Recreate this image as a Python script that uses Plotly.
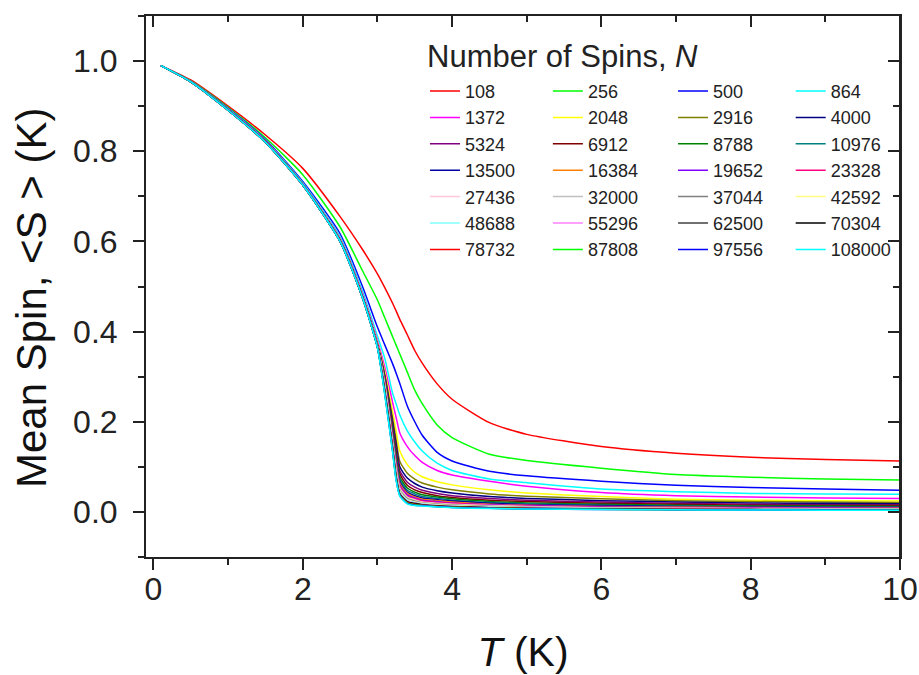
import plotly.graph_objects as go

# temperature grid (K) shared by all curves
T = [0.1, 0.5, 1.0, 1.5, 2.0, 2.5, 2.8, 3.0, 3.1, 3.2, 3.25, 3.3, 3.4, 3.5, 3.6,
     3.8, 4.0, 4.5, 5.0, 6.0, 7.0, 8.0, 9.0, 10.0]

# mean spin <S> for each number of spins N
S_108 = [0.990, 0.958, 0.900, 0.836, 0.762, 0.655, 0.582, 0.528, 0.497, 0.464, 0.446, 0.427,
         0.393, 0.358, 0.330, 0.284, 0.250, 0.198, 0.172, 0.145, 0.130, 0.121, 0.116, 0.113]
S_256 = [0.990, 0.956, 0.897, 0.830, 0.748, 0.632, 0.535, 0.470, 0.430, 0.390, 0.370, 0.350,
         0.310, 0.270, 0.240, 0.193, 0.165, 0.128, 0.114, 0.097, 0.083, 0.077, 0.073, 0.071]
S_500 = [0.990, 0.955, 0.895, 0.826, 0.733, 0.617, 0.500, 0.410, 0.370, 0.330, 0.308, 0.285,
         0.235, 0.200, 0.170, 0.132, 0.113, 0.090, 0.080, 0.068, 0.059, 0.054, 0.051, 0.048]
S_864 = [0.990, 0.955, 0.894, 0.824, 0.730, 0.610, 0.490, 0.390, 0.340, 0.265, 0.240, 0.215,
         0.180, 0.155, 0.135, 0.108, 0.092, 0.073, 0.065, 0.051, 0.045, 0.041, 0.040, 0.039]
S_1372 = [0.990, 0.955, 0.893, 0.823, 0.728, 0.606, 0.484, 0.380, 0.320, 0.245, 0.210, 0.175,
          0.145, 0.125, 0.110, 0.092, 0.082, 0.068, 0.057, 0.043, 0.036, 0.033, 0.031, 0.030]
S_2048 = [0.990, 0.954, 0.892, 0.822, 0.727, 0.604, 0.480, 0.375, 0.310, 0.225, 0.180, 0.135,
          0.105, 0.088, 0.078, 0.067, 0.060, 0.049, 0.042, 0.034, 0.028, 0.026, 0.025, 0.024]
S_2916 = [0.990, 0.954, 0.892, 0.821, 0.726, 0.603, 0.478, 0.372, 0.303, 0.210, 0.160, 0.112,
          0.086, 0.073, 0.064, 0.055, 0.049, 0.040, 0.035, 0.029, 0.025, 0.023, 0.022, 0.021]
S_4000 = [0.990, 0.954, 0.892, 0.821, 0.726, 0.602, 0.477, 0.371, 0.300, 0.202, 0.150, 0.100,
          0.075, 0.063, 0.055, 0.047, 0.042, 0.034, 0.030, 0.025, 0.022, 0.020, 0.019, 0.018]
S_5324 = [0.990, 0.954, 0.892, 0.821, 0.726, 0.602, 0.477, 0.370, 0.297, 0.195, 0.141, 0.091,
          0.066, 0.055, 0.048, 0.041, 0.036, 0.030, 0.026, 0.022, 0.019, 0.017, 0.016, 0.016]
S_6912 = [0.990, 0.954, 0.891, 0.821, 0.726, 0.602, 0.477, 0.370, 0.295, 0.189, 0.133, 0.084,
          0.059, 0.049, 0.043, 0.036, 0.032, 0.026, 0.023, 0.019, 0.017, 0.015, 0.014, 0.014]
S_8788 = [0.990, 0.954, 0.891, 0.820, 0.725, 0.601, 0.476, 0.369, 0.292, 0.183, 0.126, 0.077,
          0.053, 0.044, 0.038, 0.033, 0.029, 0.023, 0.020, 0.017, 0.015, 0.013, 0.013, 0.012]
S_10976 = [0.990, 0.954, 0.891, 0.820, 0.725, 0.601, 0.476, 0.369, 0.290, 0.178, 0.120, 0.072,
           0.048, 0.040, 0.034, 0.030, 0.026, 0.021, 0.018, 0.015, 0.013, 0.012, 0.011, 0.011]
S_13500 = [0.990, 0.954, 0.891, 0.820, 0.725, 0.601, 0.476, 0.368, 0.288, 0.174, 0.115, 0.067,
           0.044, 0.036, 0.031, 0.027, 0.024, 0.019, 0.016, 0.014, 0.012, 0.011, 0.010, 0.010]
S_16384 = [0.990, 0.954, 0.891, 0.820, 0.725, 0.600, 0.475, 0.368, 0.286, 0.170, 0.110, 0.063,
           0.041, 0.033, 0.028, 0.025, 0.022, 0.017, 0.015, 0.012, 0.011, 0.010, 0.009, 0.009]
S_19652 = [0.990, 0.954, 0.891, 0.820, 0.725, 0.600, 0.475, 0.368, 0.284, 0.166, 0.105, 0.059,
           0.038, 0.031, 0.026, 0.023, 0.020, 0.016, 0.014, 0.011, 0.010, 0.009, 0.0085, 0.008]
S_23328 = [0.990, 0.954, 0.891, 0.820, 0.725, 0.600, 0.475, 0.367, 0.282, 0.163, 0.101, 0.056,
           0.035, 0.029, 0.024, 0.021, 0.019, 0.015, 0.013, 0.010, 0.009, 0.0083, 0.0078, 0.0075]
S_27436 = [0.990, 0.954, 0.891, 0.820, 0.725, 0.600, 0.475, 0.367, 0.280, 0.160, 0.097, 0.053,
           0.033, 0.027, 0.022, 0.019, 0.017, 0.014, 0.012, 0.0095, 0.0084, 0.0077, 0.0072, 0.0069]
S_32000 = [0.990, 0.954, 0.891, 0.820, 0.725, 0.600, 0.475, 0.367, 0.278, 0.157, 0.094, 0.050,
           0.031, 0.025, 0.021, 0.018, 0.016, 0.013, 0.011, 0.0088, 0.0078, 0.0072, 0.0067, 0.0064]
S_37044 = [0.990, 0.954, 0.891, 0.820, 0.725, 0.600, 0.475, 0.367, 0.276, 0.155, 0.091, 0.048,
           0.029, 0.024, 0.020, 0.017, 0.015, 0.012, 0.010, 0.0083, 0.0073, 0.0067, 0.0063, 0.0060]
S_42592 = [0.990, 0.954, 0.891, 0.820, 0.725, 0.600, 0.475, 0.366, 0.274, 0.153, 0.088, 0.046,
           0.027, 0.022, 0.019, 0.016, 0.014, 0.011, 0.0095, 0.0078, 0.0069, 0.0063, 0.0059, 0.0056]
S_48688 = [0.990, 0.954, 0.891, 0.820, 0.725, 0.600, 0.475, 0.366, 0.272, 0.151, 0.085, 0.044,
           0.026, 0.021, 0.018, 0.015, 0.013, 0.0105, 0.009, 0.0074, 0.0065, 0.0060, 0.0055, 0.0052]
S_55296 = [0.990, 0.954, 0.891, 0.820, 0.725, 0.600, 0.475, 0.366, 0.270, 0.149, 0.082, 0.042,
           0.024, 0.020, 0.017, 0.014, 0.0125, 0.010, 0.0086, 0.0070, 0.0062, 0.0057, 0.0052, 0.0049]
S_62500 = [0.990, 0.954, 0.891, 0.820, 0.725, 0.600, 0.475, 0.366, 0.268, 0.147, 0.080, 0.040,
           0.023, 0.019, 0.016, 0.0135, 0.012, 0.0095, 0.0082, 0.0066, 0.0058, 0.0054, 0.0050, 0.0046]
S_70304 = [0.990, 0.954, 0.891, 0.820, 0.725, 0.600, 0.475, 0.365, 0.266, 0.145, 0.078, 0.039,
           0.022, 0.018, 0.0155, 0.013, 0.0115, 0.009, 0.0078, 0.0063, 0.0056, 0.0051, 0.0047, 0.0044]
S_78732 = [0.990, 0.954, 0.891, 0.820, 0.725, 0.600, 0.475, 0.365, 0.264, 0.143, 0.076, 0.038,
           0.021, 0.017, 0.015, 0.0125, 0.011, 0.0086, 0.0075, 0.0060, 0.0053, 0.0049, 0.0045, 0.0041]
S_87808 = [0.990, 0.954, 0.891, 0.820, 0.725, 0.600, 0.475, 0.365, 0.262, 0.141, 0.074, 0.037,
           0.020, 0.016, 0.0145, 0.012, 0.0105, 0.0082, 0.0071, 0.0057, 0.0050, 0.0046, 0.0043, 0.0039]
S_97556 = [0.990, 0.954, 0.891, 0.820, 0.725, 0.600, 0.475, 0.365, 0.260, 0.139, 0.072, 0.036,
           0.019, 0.015, 0.014, 0.0115, 0.010, 0.0079, 0.0068, 0.0055, 0.0048, 0.0044, 0.0041, 0.0037]
S_108000 = [0.990, 0.954, 0.891, 0.820, 0.725, 0.600, 0.475, 0.364, 0.258, 0.137, 0.070, 0.035,
            0.018, 0.014, 0.013, 0.011, 0.0095, 0.0075, 0.0065, 0.0052, 0.0046, 0.0042, 0.0039, 0.0035]

N_values = [108, 256, 500, 864, 1372, 2048, 2916, 4000, 5324, 6912, 8788, 10976, 13500, 16384,
            19652, 23328, 27436, 32000, 37044, 42592, 48688, 55296, 62500, 70304, 78732, 87808,
            97556, 108000]

# Origin-style colour cycle
line_colors = ['#FF0000', '#00FF00', '#0000FF', '#00FFFF', '#FF00FF', '#FFFF00', '#808000',
               '#000080', '#800080', '#800000', '#008000', '#008080', '#0000A0', '#FF8000',
               '#8000FF', '#FF0080', '#FFC8D8', '#C0C0C0', '#808080', '#FFFF80', '#80FFFF',
               '#FF80FF', '#404040', '#000000', '#FF0000', '#00FF00', '#0000FF', '#00FFFF']

spin_curves = [S_108, S_256, S_500, S_864, S_1372, S_2048, S_2916, S_4000, S_5324, S_6912,
               S_8788, S_10976, S_13500, S_16384, S_19652, S_23328, S_27436, S_32000, S_37044,
               S_42592, S_48688, S_55296, S_62500, S_70304, S_78732, S_87808, S_97556, S_108000]

FONT = 'Liberation Sans, Arial, sans-serif'
AXIS_COLOR = '#222222'

fig = go.Figure()

# legend is laid out row by row in 4 columns -> one legend per column
legend_names = ['legend', 'legend2', 'legend3', 'legend4']

for i, (n, s) in enumerate(zip(N_values, spin_curves)):
    fig.add_trace(go.Scatter(x=T, y=s, mode='lines', name=str(n),
                             line=dict(color=line_colors[i], width=1.5, shape='spline', smoothing=0.6),
                             legend=legend_names[i % 4]))

# empty traces so the mirrored top / right axes get drawn
fig.add_trace(go.Scatter(x=[], y=[], xaxis='x2', yaxis='y', showlegend=False, hoverinfo='skip'))
fig.add_trace(go.Scatter(x=[], y=[], xaxis='x', yaxis='y2', showlegend=False, hoverinfo='skip'))

legend_x = [0.370, 0.533, 0.699, 0.855]
legend_common = dict(y=0.895, yanchor='top', xanchor='left', bgcolor='rgba(0,0,0,0)',
                     font=dict(family=FONT, size=18, color='#222222'),
                     tracegroupgap=0, itemwidth=30)

axis_common = dict(showline=True, linewidth=2, linecolor=AXIS_COLOR, showgrid=False,
                   zeroline=False, tickwidth=2, tickcolor=AXIS_COLOR, automargin=False)

fig.update_layout(
    width=919, height=675,
    margin=dict(l=146, r=19, t=16, b=118),
    paper_bgcolor='white', plot_bgcolor='white',
    font=dict(family=FONT, color='#111111'),
    showlegend=True,
    legend=dict(x=legend_x[0], **legend_common),
    legend2=dict(x=legend_x[1], **legend_common),
    legend3=dict(x=legend_x[2], **legend_common),
    legend4=dict(x=legend_x[3], **legend_common),
    xaxis=dict(range=[-0.1, 10], tick0=0, dtick=2, ticks='outside', ticklen=11, mirror=True,
               ticklabelstandoff=-8,
               minor=dict(dtick=1, ticks='outside', ticklen=6, tickwidth=2, tickcolor=AXIS_COLOR),
               tickfont=dict(size=32, family=FONT, color='#222222'),
               title=dict(text='<i>T</i> (K)', font=dict(size=41, family=FONT, color='#111111'),
                          standoff=34),
               **axis_common),
    yaxis=dict(range=[-0.1, 1.1], tick0=0, dtick=0.2, tickformat='.1f', ticks='outside', ticklen=11,
               mirror=True, ticklabelstandoff=9,
               minor=dict(dtick=0.1, ticks='outside', ticklen=6, tickwidth=2, tickcolor=AXIS_COLOR),
               tickfont=dict(size=32, family=FONT, color='#222222'),
               **axis_common),
    # mirrored top / right axes with inward ticks
    xaxis2=dict(range=[-0.1, 10], overlaying='x', side='top', anchor='y', tick0=0, dtick=2,
                ticks='inside', ticklen=11, showticklabels=False,
                minor=dict(dtick=1, ticks='inside', ticklen=6, tickwidth=2, tickcolor=AXIS_COLOR),
                **axis_common),
    yaxis2=dict(range=[-0.1, 1.1], overlaying='y', side='right', anchor='free', position=1.0,
                tick0=0, dtick=0.2, ticks='inside', ticklen=11, showticklabels=False,
                minor=dict(dtick=0.1, ticks='inside', ticklen=6, tickwidth=2, tickcolor=AXIS_COLOR),
                **axis_common),
)

# y axis title, placed by hand (sits a little below the plot centre)
fig.add_annotation(text='Mean Spin, &lt;S &gt; (K)', xref='paper', yref='paper',
                   x=-0.151, y=0.479, xanchor='center', yanchor='middle', textangle=-90,
                   showarrow=False, font=dict(size=42, family=FONT, color='#111111'))

fig.add_annotation(text='Number of Spins, <i>N</i>', xref='paper', yref='paper',
                   x=0.370, y=0.926, xanchor='left', yanchor='middle', showarrow=False,
                   font=dict(size=31, family=FONT, color='#222222'))

# the browser's default 8px body margin would push the fixed-size figure off the window
fig.write_html("out.html", config={'displayModeBar': False},
               post_script="document.body.style.margin='0';"
                           "document.documentElement.style.overflow='hidden';")
